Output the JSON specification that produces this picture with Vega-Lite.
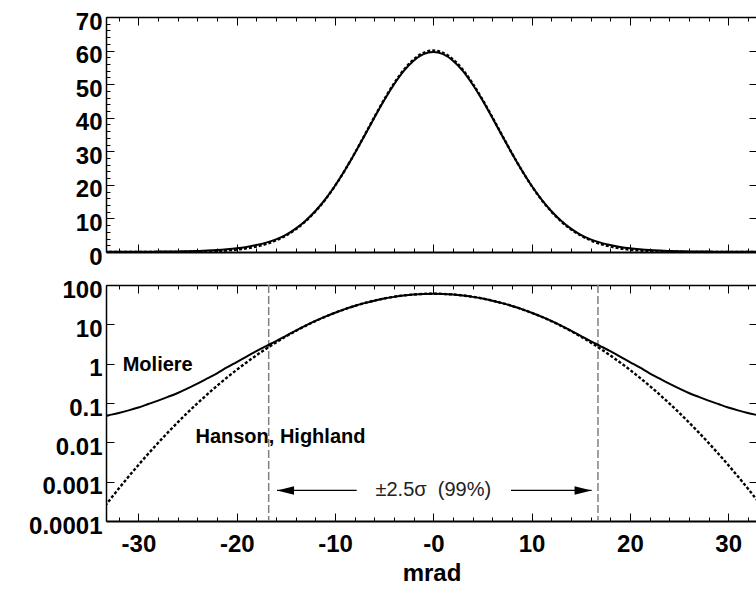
{
  "$schema": "https://vega.github.io/schema/vega-lite/v6.json",
  "padding": {"left": 28, "top": 10, "right": 0, "bottom": 0},
  "bounds": "flush",
  "spacing": 33,
  "background": "white",
  "config": {
    "view": {"stroke": null},
    "axis": {
      "grid": false,
      "domainColor": "black",
      "domainWidth": 1.5,
      "tickColor": "black",
      "tickWidth": 1,
      "labelFont": "Liberation Sans",
      "labelFontWeight": "bold",
      "labelFontSize": 24,
      "labelColor": "black",
      "titleFont": "Liberation Sans",
      "titleFontWeight": "bold",
      "titleFontSize": 24,
      "titleColor": "black"
    }
  },
  "datasets": {
    "moliere": [
      {"x": -34, "y": 0.043}, {"x": -33, "y": 0.049}, {"x": -32, "y": 0.056}, {"x": -31, "y": 0.065},
      {"x": -30, "y": 0.077}, {"x": -29, "y": 0.094}, {"x": -28, "y": 0.115}, {"x": -27, "y": 0.143},
      {"x": -26, "y": 0.18}, {"x": -25, "y": 0.235}, {"x": -24, "y": 0.31}, {"x": -23, "y": 0.42},
      {"x": -22, "y": 0.57}, {"x": -21, "y": 0.8}, {"x": -20, "y": 1.1}, {"x": -19, "y": 1.52},
      {"x": -18, "y": 2.08}, {"x": -17, "y": 2.8}, {"x": -16, "y": 3.75}, {"x": -15, "y": 5.1},
      {"x": -14, "y": 6.95}, {"x": -13, "y": 9.3}, {"x": -12, "y": 12.2}, {"x": -11, "y": 15.7},
      {"x": -10, "y": 19.75}, {"x": -9, "y": 24.35}, {"x": -8, "y": 29.35}, {"x": -7, "y": 34.65},
      {"x": -6, "y": 40.0}, {"x": -5, "y": 45.2}, {"x": -4, "y": 49.9}, {"x": -3, "y": 53.95},
      {"x": -2, "y": 57.0}, {"x": -1, "y": 58.95}, {"x": 0, "y": 59.6},
      {"x": 1, "y": 58.95}, {"x": 2, "y": 57.0}, {"x": 3, "y": 53.95}, {"x": 4, "y": 49.9},
      {"x": 5, "y": 45.2}, {"x": 6, "y": 40.0}, {"x": 7, "y": 34.65}, {"x": 8, "y": 29.35},
      {"x": 9, "y": 24.35}, {"x": 10, "y": 19.75}, {"x": 11, "y": 15.7}, {"x": 12, "y": 12.2},
      {"x": 13, "y": 9.3}, {"x": 14, "y": 6.95}, {"x": 15, "y": 5.1}, {"x": 16, "y": 3.75},
      {"x": 17, "y": 2.8}, {"x": 18, "y": 2.08}, {"x": 19, "y": 1.52}, {"x": 20, "y": 1.1},
      {"x": 21, "y": 0.8}, {"x": 22, "y": 0.57}, {"x": 23, "y": 0.42}, {"x": 24, "y": 0.31},
      {"x": 25, "y": 0.235}, {"x": 26, "y": 0.18}, {"x": 27, "y": 0.143}, {"x": 28, "y": 0.115},
      {"x": 29, "y": 0.094}, {"x": 30, "y": 0.077}, {"x": 31, "y": 0.065}, {"x": 32, "y": 0.056},
      {"x": 33, "y": 0.049}, {"x": 34, "y": 0.043}
    ],
    "gauss": [
      {"x": -34, "y": 0.0001536}, {"x": -33, "y": 0.000324}, {"x": -32, "y": 0.000668}, {"x": -31, "y": 0.001348},
      {"x": -30, "y": 0.002657}, {"x": -29, "y": 0.005125}, {"x": -28, "y": 0.009673}, {"x": -27, "y": 0.01785},
      {"x": -26, "y": 0.03222}, {"x": -25, "y": 0.05688}, {"x": -24, "y": 0.09815}, {"x": -23, "y": 0.1657},
      {"x": -22, "y": 0.2734}, {"x": -21, "y": 0.4414}, {"x": -20, "y": 0.6967}, {"x": -19, "y": 1.076},
      {"x": -18, "y": 1.625}, {"x": -17, "y": 2.4}, {"x": -16, "y": 3.466}, {"x": -15, "y": 4.895},
      {"x": -14, "y": 6.762}, {"x": -13, "y": 9.134}, {"x": -12, "y": 12.07}, {"x": -11, "y": 15.59},
      {"x": -10, "y": 19.7}, {"x": -9, "y": 24.34}, {"x": -8, "y": 29.41}, {"x": -7, "y": 34.76},
      {"x": -6, "y": 40.18}, {"x": -5, "y": 45.42}, {"x": -4, "y": 50.21}, {"x": -3, "y": 54.28},
      {"x": -2, "y": 57.39}, {"x": -1, "y": 59.34}, {"x": 0, "y": 60.0},
      {"x": 1, "y": 59.34}, {"x": 2, "y": 57.39}, {"x": 3, "y": 54.28}, {"x": 4, "y": 50.21},
      {"x": 5, "y": 45.42}, {"x": 6, "y": 40.18}, {"x": 7, "y": 34.76}, {"x": 8, "y": 29.41},
      {"x": 9, "y": 24.34}, {"x": 10, "y": 19.7}, {"x": 11, "y": 15.59}, {"x": 12, "y": 12.07},
      {"x": 13, "y": 9.134}, {"x": 14, "y": 6.762}, {"x": 15, "y": 4.895}, {"x": 16, "y": 3.466},
      {"x": 17, "y": 2.4}, {"x": 18, "y": 1.625}, {"x": 19, "y": 1.076}, {"x": 20, "y": 0.6967},
      {"x": 21, "y": 0.4414}, {"x": 22, "y": 0.2734}, {"x": 23, "y": 0.1657}, {"x": 24, "y": 0.09815},
      {"x": 25, "y": 0.05688}, {"x": 26, "y": 0.03222}, {"x": 27, "y": 0.01785}, {"x": 28, "y": 0.009673},
      {"x": 29, "y": 0.005125}, {"x": 30, "y": 0.002657}, {"x": 31, "y": 0.001348}, {"x": 32, "y": 0.000668},
      {"x": 33, "y": 0.000324}, {"x": 34, "y": 0.0001536}
    ],
    "sigma": [{"x": -16.75}, {"x": 16.75}],
    "arrows": [
      {"x": -7.8, "x2": -15.9, "y": 0.0006},
      {"x": 7.9, "x2": 16.1, "y": 0.0006}
    ],
    "heads": [
      {"x": -15.9, "y": 0.0006, "dir": "left"},
      {"x": 16.1, "y": 0.0006, "dir": "right"}
    ],
    "labels": [
      {"x": -31.6, "y": 0.93, "label": "Moliere"},
      {"x": -24.2, "y": 0.0138, "label": "Hanson, Highland"}
    ],
    "note": [{"x": 0, "y": 0.0006, "label": "±2.5σ\u00a0 (99%)"}]
  },
  "vconcat": [
    {
      "width": 651,
      "height": 235,
      "resolve": {"axis": {"x": "independent", "y": "independent"}},
      "layer": [
        {
          "data": {"name": "moliere"},
          "mark": {"type": "line", "color": "black", "strokeWidth": 2, "clip": true, "interpolate": "monotone"},
          "encoding": {
            "x": {"field": "x", "type": "quantitative",
              "scale": {"domain": [-33.3, 32.93], "nice": false, "zero": false},
              "axis": {"orient": "bottom", "values": [-30, -20, -10, 0, 10, 20, 30], "labels": false, "tickSize": -8, "domainWidth": 2, "title": null}},
            "y": {"field": "y", "type": "quantitative",
              "scale": {"domain": [0, 70], "nice": false},
              "axis": {"orient": "left", "values": [0, 10, 20, 30, 40, 50, 60, 70], "tickSize": -8, "labelPadding": 12, "labelOffset": 5, "title": null}}
          }
        },
        {
          "data": {"name": "gauss"},
          "mark": {"type": "line", "color": "black", "strokeWidth": 2.4, "strokeDash": [3, 2], "clip": true, "interpolate": "monotone"},
          "encoding": {
            "x": {"field": "x", "type": "quantitative",
              "scale": {"domain": [-33.3, 32.93], "nice": false, "zero": false},
              "axis": {"orient": "bottom", "values": [-32, -30, -28, -26, -24, -22, -20, -18, -16, -14, -12, -10, -8, -6, -4, -2, 0, 2, 4, 6, 8, 10, 12, 14, 16, 18, 20, 22, 24, 26, 28, 30, 32], "labels": false, "tickSize": -4, "domain": false, "title": null}},
            "y": {"field": "y", "type": "quantitative",
              "scale": {"domain": [0, 70], "nice": false},
              "axis": {"orient": "left", "values": [0, 2, 4, 6, 8, 10, 12, 14, 16, 18, 20, 22, 24, 26, 28, 30, 32, 34, 36, 38, 40, 42, 44, 46, 48, 50, 52, 54, 56, 58, 60, 62, 64, 66, 68, 70], "labels": false, "tickSize": -4, "domain": false, "title": null}}
          }
        },
        {
          "data": {"name": "moliere"},
          "mark": {"type": "line", "opacity": 0, "clip": true},
          "encoding": {
            "x": {"field": "x", "type": "quantitative",
              "scale": {"domain": [-33.3, 32.93], "nice": false, "zero": false},
              "axis": {"orient": "top", "values": [-30, -20, -10, 0, 10, 20, 30], "labels": false, "tickSize": -8, "title": null}},
            "y": {"field": "y", "type": "quantitative",
              "scale": {"domain": [0, 70], "nice": false},
              "axis": {"orient": "right", "values": [0, 10, 20, 30, 40, 50, 60, 70], "labels": false, "tickSize": -8, "domain": false, "title": null}}
          }
        },
        {
          "data": {"name": "gauss"},
          "mark": {"type": "line", "opacity": 0, "clip": true},
          "encoding": {
            "x": {"field": "x", "type": "quantitative",
              "scale": {"domain": [-33.3, 32.93], "nice": false, "zero": false},
              "axis": {"orient": "top", "values": [-32, -30, -28, -26, -24, -22, -20, -18, -16, -14, -12, -10, -8, -6, -4, -2, 0, 2, 4, 6, 8, 10, 12, 14, 16, 18, 20, 22, 24, 26, 28, 30, 32], "labels": false, "tickSize": -4, "domain": false, "title": null}},
            "y": {"field": "y", "type": "quantitative",
              "scale": {"domain": [0, 70], "nice": false},
              "axis": null}
          }
        }
      ]
    },
    {
      "width": 651,
      "height": 236,
      "resolve": {"axis": {"x": "independent", "y": "independent"}},
      "layer": [
        {
          "data": {"name": "sigma"},
          "mark": {"type": "rule", "color": "#808080", "strokeWidth": 1.5, "strokeDash": [8, 3]},
          "encoding": {
            "x": {"field": "x", "type": "quantitative",
              "scale": {"domain": [-33.3, 32.93], "nice": false, "zero": false},
              "axis": {"orient": "top", "values": [-30, -20, -10, 0, 10, 20, 30], "labels": false, "tickSize": -8, "title": null}}
          }
        },
        {
          "data": {"name": "moliere"},
          "mark": {"type": "line", "color": "black", "strokeWidth": 2, "clip": true, "interpolate": "monotone"},
          "encoding": {
            "x": {"field": "x", "type": "quantitative",
              "scale": {"domain": [-33.3, 32.93], "nice": false, "zero": false},
              "axis": {"orient": "bottom", "values": [-30, -20, -10, 0, 10, 20, 30], "tickSize": -8, "domainWidth": 2, "labelPadding": 19, "labelExpr": "datum.value == 0 ? '-0' : (datum.value < 0 ? '-' + abs(datum.value) : '' + datum.value)", "title": "mrad", "titlePadding": 5}},
            "y": {"field": "y", "type": "quantitative",
              "scale": {"type": "log", "domain": [0.0001, 100], "nice": false},
              "axis": {"orient": "left", "values": [100, 10, 1, 0.1, 0.01, 0.001, 0.0001], "format": "~g", "tickSize": -8, "labelPadding": 12, "labelOffset": 5, "title": null}}
          }
        },
        {
          "data": {"name": "gauss"},
          "mark": {"type": "line", "color": "black", "strokeWidth": 2.4, "strokeDash": [3, 2], "clip": true, "interpolate": "monotone"},
          "encoding": {
            "x": {"field": "x", "type": "quantitative",
              "scale": {"domain": [-33.3, 32.93], "nice": false, "zero": false},
              "axis": {"orient": "bottom", "values": [-32, -30, -28, -26, -24, -22, -20, -18, -16, -14, -12, -10, -8, -6, -4, -2, 0, 2, 4, 6, 8, 10, 12, 14, 16, 18, 20, 22, 24, 26, 28, 30, 32], "labels": false, "tickSize": -4, "domain": false, "title": null}},
            "y": {"field": "y", "type": "quantitative",
              "scale": {"type": "log", "domain": [0.0001, 100], "nice": false},
              "axis": {"orient": "right", "values": [100, 10, 1, 0.1, 0.01, 0.001, 0.0001], "labels": false, "tickSize": -8, "domain": false, "title": null}}
          }
        },
        {
          "data": {"name": "labels"},
          "mark": {"type": "text", "align": "left", "baseline": "middle", "font": "Liberation Sans", "fontWeight": "bold", "fontSize": 20, "color": "black"},
          "encoding": {
            "x": {"field": "x", "type": "quantitative",
              "scale": {"domain": [-33.3, 32.93], "nice": false, "zero": false},
              "axis": {"orient": "top", "values": [-32, -30, -28, -26, -24, -22, -20, -18, -16, -14, -12, -10, -8, -6, -4, -2, 0, 2, 4, 6, 8, 10, 12, 14, 16, 18, 20, 22, 24, 26, 28, 30, 32], "labels": false, "tickSize": -4, "domain": false, "title": null}},
            "y": {"field": "y", "type": "quantitative",
              "scale": {"type": "log", "domain": [0.0001, 100], "nice": false},
              "axis": null},
            "text": {"field": "label"}
          }
        },
        {
          "data": {"name": "arrows"},
          "mark": {"type": "rule", "color": "black", "strokeWidth": 1.2},
          "encoding": {
            "x": {"field": "x", "type": "quantitative", "scale": {"domain": [-33.3, 32.93], "nice": false, "zero": false}, "axis": null},
            "x2": {"field": "x2"},
            "y": {"field": "y", "type": "quantitative", "scale": {"type": "log", "domain": [0.0001, 100], "nice": false}, "axis": null}
          }
        },
        {
          "data": {"name": "heads"},
          "mark": {"type": "point", "filled": true, "color": "black", "opacity": 1, "size": 289},
          "encoding": {
            "x": {"field": "x", "type": "quantitative", "scale": {"domain": [-33.3, 32.93], "nice": false, "zero": false}, "axis": null},
            "y": {"field": "y", "type": "quantitative", "scale": {"type": "log", "domain": [0.0001, 100], "nice": false}, "axis": null},
            "shape": {"field": "dir", "type": "nominal",
              "scale": {"domain": ["left", "right"], "range": ["M 0 0 L 2 -0.5 L 2 0.5 Z", "M 0 0 L -2 -0.5 L -2 0.5 Z"]},
              "legend": null}
          }
        },
        {
          "data": {"name": "note"},
          "mark": {"type": "text", "align": "center", "baseline": "middle", "font": "Liberation Sans", "fontSize": 20, "color": "#222222"},
          "encoding": {
            "x": {"field": "x", "type": "quantitative", "scale": {"domain": [-33.3, 32.93], "nice": false, "zero": false}, "axis": null},
            "y": {"field": "y", "type": "quantitative", "scale": {"type": "log", "domain": [0.0001, 100], "nice": false}, "axis": null},
            "text": {"field": "label"}
          }
        }
      ]
    }
  ]
}
